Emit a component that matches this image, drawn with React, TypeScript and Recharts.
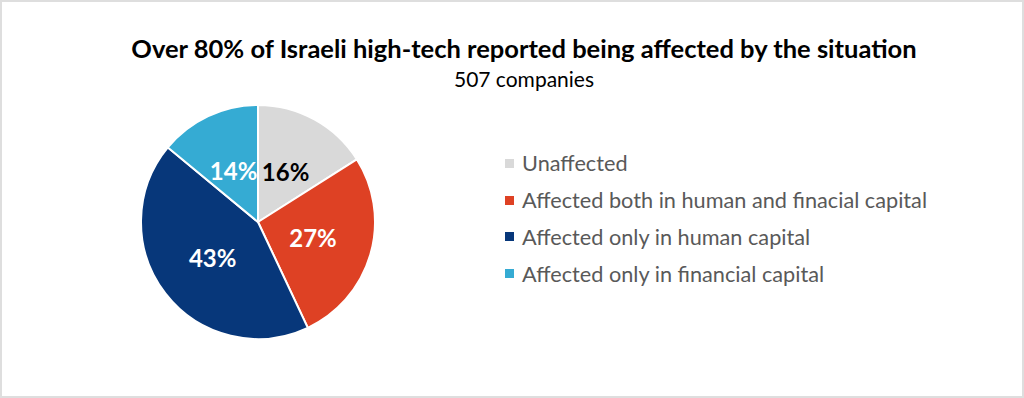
import React from "react";
import { PieChart, Pie, Cell, Legend } from "recharts";

const categories = [
  "Unaffected",
  "Affected both in human and finacial capital",
  "Affected only in human capital",
  "Affected only in financial capital",
];
const values = [16, 27, 43, 14];
const colors = ["#d9d9d9", "#de4124", "#07377a", "#35abd3"];
const labelColors = ["#000000", "#ffffff", "#ffffff", "#ffffff"];
const title = "Over 80% of Israeli high-tech reported being affected by the situation";
const subtitle = "507 companies";

const data = categories.map((name, i) => ({ name, value: values[i] }));
const FONT = "Lato, 'Open Sans', sans-serif";
const RAD = Math.PI / 180;

const renderLabel = (props: any) => {
  const { cx, cy, midAngle, outerRadius, index, value } = props;
  const r = outerRadius * 0.49;
  const x = cx + r * Math.cos(-midAngle * RAD);
  const y = cy + r * Math.sin(-midAngle * RAD);
  return (
    <text
      x={x}
      y={y}
      fill={labelColors[index]}
      textAnchor="middle"
      dominantBaseline="central"
      fontFamily={FONT}
      fontWeight={700}
      fontSize={24}
    >
      {`${value}%`}
    </text>
  );
};

const renderLegend = () => (
  <div style={{ fontFamily: FONT }}>
    {categories.map((c, i) => (
      <div
        key={c}
        style={{ display: "flex", alignItems: "center", height: 36.8, fontSize: 21.7, color: "#595959" }}
      >
        <span style={{ display: "inline-block", width: 9, height: 9, background: colors[i], marginRight: 8 }} />
        <span>{c}</span>
      </div>
    ))}
  </div>
);

export default function App() {
  return (
    <div
      style={{
        position: "absolute",
        left: 0,
        top: 0,
        width: 1024,
        height: 398,
        boxSizing: "border-box",
        border: "2px solid #dedede",
        background: "#fff",
        overflow: "hidden",
      }}
    >
      <div
        style={{
          position: "absolute",
          left: 0,
          top: 31,
          width: 1044,
          textAlign: "center",
          fontFamily: FONT,
          fontWeight: 700,
          fontSize: 25.5,
          color: "#000",
          whiteSpace: "nowrap",
        }}
      >
        {title}
      </div>
      <div
        style={{
          position: "absolute",
          left: 0,
          top: 64,
          width: 1044,
          textAlign: "center",
          fontFamily: FONT,
          fontSize: 21,
          color: "#000",
        }}
      >
        {subtitle}
      </div>
      <div style={{ position: "absolute", left: -2, top: -2 }}>
        <PieChart width={1024} height={398} margin={{ top: 0, right: 0, bottom: 0, left: 0 }}>
          <Pie
            data={data}
            dataKey="value"
            nameKey="name"
            cx={258}
            cy={222}
            outerRadius={117}
            startAngle={90}
            endAngle={-270}
            stroke="#ffffff"
            strokeWidth={2}
            label={renderLabel}
            labelLine={false}
            isAnimationActive={false}
          >
            {data.map((d, i) => (
              <Cell key={d.name} fill={colors[i]} />
            ))}
          </Pie>
          <Legend
            content={renderLegend}
            layout="vertical"
            wrapperStyle={{ position: "absolute", left: 505, top: 145, width: 500 }}
          />
        </PieChart>
      </div>
    </div>
  );
}
